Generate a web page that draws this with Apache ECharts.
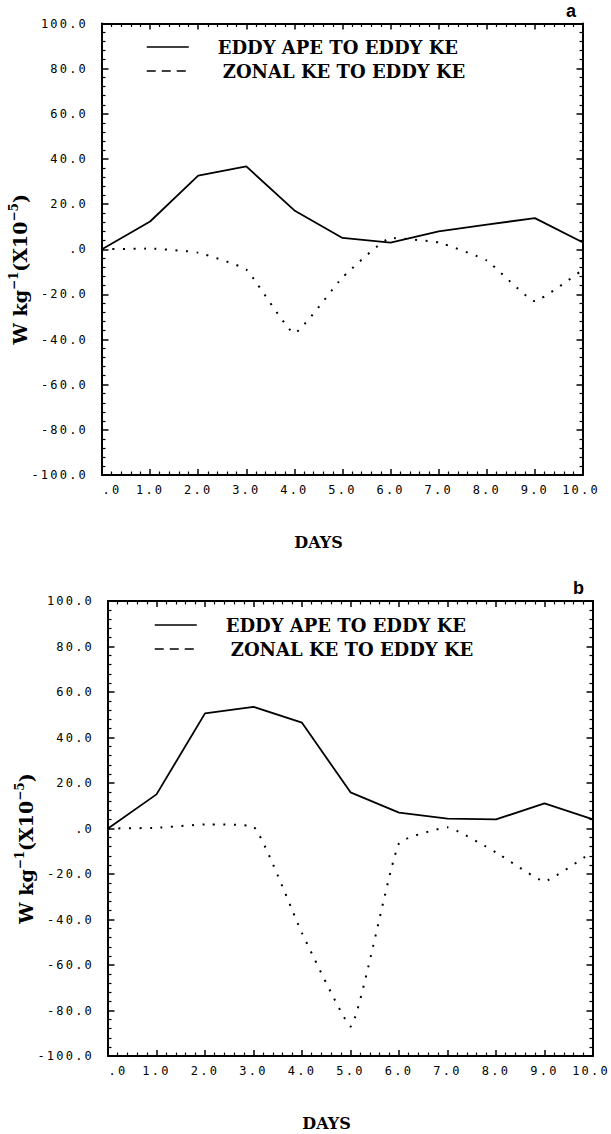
<!DOCTYPE html>
<html>
<head>
<meta charset="utf-8">
<script src="https://cdn.jsdelivr.net/npm/echarts@6/dist/echarts.min.js"></script>
<style>
  html, body { margin: 0; padding: 0; background: #fff; }
  #chart { width: 611px; height: 1134px; }
  /* plotter-style spacing for the numeric tick labels */
  #chart text[style*="Mono"] { letter-spacing: 2.2px; }
</style>
</head>
<body>
<div id="chart"></div>
<script>
// Energy conversion terms, W kg^-1 (x10^-5), by day
const days = [0, 1, 2, 3, 4, 5, 6, 7, 8, 9, 10];
const apeToKeA   = [0, 12.3, 32.6, 36.7, 17.2, 5.0, 2.9, 7.9, 10.9, 13.8, 3.0];
const zonalToKeA = [0, 0.3, -1.5, -9.0, -37.2, -12.5, 5.0, 3.0, -5.0, -23.0, -9.0];
const apeToKeB   = [0, 15.0, 50.6, 53.5, 46.5, 15.9, 7.0, 4.3, 4.0, 11.0, 4.0];
const zonalToKeB = [0, 0.3, 1.8, 0.8, -46.0, -87.0, -6.5, 0.5, -10.5, -23.2, -10.0];

const seriesNames = ['EDDY APE TO EDDY KE', 'ZONAL KE TO EDDY KE'];
const panelLetters = ['a', 'b'];
const xTitle = 'DAYS';
const yTitle = '{b|W kg}{s|\u22121}{b|(X10}{s|\u22125}{b|)}';

const MONO = 'DejaVu Sans Mono';
const SERIF = 'DejaVu Serif';

const panels = [
  { grid: { left: 101, top: 23.5, width: 482, height: 451.5 }, ape: apeToKeA, zonal: zonalToKeA,
    legend: { left: 146, top: 38 }, letter: { left: 566, top: 2 } },
  { grid: { left: 108, top: 601, width: 485, height: 455 }, ape: apeToKeB, zonal: zonalToKeB,
    legend: { left: 154, top: 616 }, letter: { left: 573, top: 579 } }
];

const axisLine = { show: true, onZero: false, lineStyle: { color: '#000', width: 2 } };
const majorTick = (len) => ({ show: true, inside: true, length: len, lineStyle: { color: '#000', width: 1.5 } });
const minorTick = { show: true, splitNumber: 5, length: 3.5, lineStyle: { color: '#000', width: 1.2 } };
const fmt = (v) => (v === 0 ? '.0' : v.toFixed(1));
const monoText = { fontFamily: MONO, fontSize: 12, color: '#000' };

const grids = [], xAxes = [], yAxes = [], series = [], legends = [], titles = [];

panels.forEach((p, i) => {
  grids.push(Object.assign({ containLabel: false }, p.grid));
  const base = {
    type: 'value', gridIndex: i, axisLine,
    splitLine: { show: false }, minorSplitLine: { show: false }
  };
  // bottom axis with labels and title
  xAxes.push(Object.assign({}, base, {
    position: 'bottom', min: 0, max: 10, interval: 1,
    axisTick: majorTick(6), minorTick,
    axisLabel: Object.assign({}, monoText, {
      margin: 9,
      formatter: (v) => (v === 0 ? '{z|.0}' : v === 10 ? '{m|10.0}' : v.toFixed(1)),
      rich: {
        z: Object.assign({ padding: [0, 0, 0, 20] }, monoText),
        m: Object.assign({ padding: [0, 4, 0, 0] }, monoText)
      }
    }),
    name: xTitle, nameLocation: 'middle', nameGap: 59,
    nameTextStyle: { fontFamily: SERIF, fontWeight: 'bold', fontSize: 16, color: '#000', padding: [0, 48, 0, 0] }
  }));
  // top frame edge
  xAxes.push(Object.assign({}, base, {
    position: 'top', min: 0, max: 10, interval: 1,
    axisTick: majorTick(6), minorTick, axisLabel: { show: false }
  }));
  // left axis with labels and title
  yAxes.push(Object.assign({}, base, {
    position: 'left', min: -100, max: 100, interval: 20,
    axisTick: majorTick(6.5), minorTick,
    axisLabel: Object.assign({}, monoText, { margin: 14, formatter: fmt }),
    name: yTitle, nameLocation: 'middle', nameGap: 70, nameRotate: 90,
    nameTextStyle: {
      color: '#000', padding: [0, 40, 0, 0],
      rich: {
        b: { fontFamily: SERIF, fontWeight: 'bold', fontSize: 19, lineHeight: 24, color: '#000' },
        s: { fontFamily: SERIF, fontWeight: 'bold', fontSize: 12, lineHeight: 13, verticalAlign: 'top', color: '#000' }
      }
    }
  }));
  // right frame edge
  yAxes.push(Object.assign({}, base, {
    position: 'right', min: -100, max: 100, interval: 20,
    axisTick: majorTick(6.5), minorTick, axisLabel: { show: false }
  }));

  const xi = i * 2;
  series.push({
    type: 'line', name: seriesNames[0], xAxisIndex: xi, yAxisIndex: xi,
    data: days.map((d, k) => [d, p.ape[k]]),
    symbol: 'none', silent: true,
    itemStyle: { color: '#000' },
    lineStyle: { color: '#000', width: 1.8 }
  });
  series.push({
    type: 'line', name: seriesNames[1], xAxisIndex: xi, yAxisIndex: xi,
    data: days.map((d, k) => [d, p.zonal[k]]),
    symbol: 'none', silent: true, smooth: 0.12,
    itemStyle: { color: '#000' },
    lineStyle: { color: '#000', width: 2, type: [2, 8.5] }
  });

  legends.push({
    orient: 'vertical', left: p.legend.left, top: p.legend.top,
    itemWidth: 42, itemHeight: 10, itemGap: 6, padding: 0,
    selectedMode: false,
    textStyle: { fontFamily: SERIF, fontWeight: 'bold', fontSize: 18, color: '#000' },
    data: [
      { name: seriesNames[0], itemStyle: { opacity: 0 },
        lineStyle: { color: '#000', width: 1.5, type: 'solid' },
        textStyle: { padding: [0, 0, 0, 24] } },
      { name: seriesNames[1], itemStyle: { opacity: 0 },
        lineStyle: { color: '#000', width: 1.5, type: [9, 6] },
        textStyle: { padding: [0, 0, 0, 29] } }
    ]
  });

  titles.push({
    text: panelLetters[i], left: p.letter.left, top: p.letter.top, padding: 0,
    textStyle: { fontFamily: 'Liberation Sans', fontWeight: 'bold', fontSize: 18, color: '#000' }
  });
});

const chart = echarts.init(document.getElementById('chart'), null, { renderer: 'svg' });
chart.setOption({
  animation: false,
  backgroundColor: '#fff',
  title: titles,
  legend: legends,
  grid: grids,
  xAxis: xAxes,
  yAxis: yAxes,
  series
});
</script>
</body>
</html>
